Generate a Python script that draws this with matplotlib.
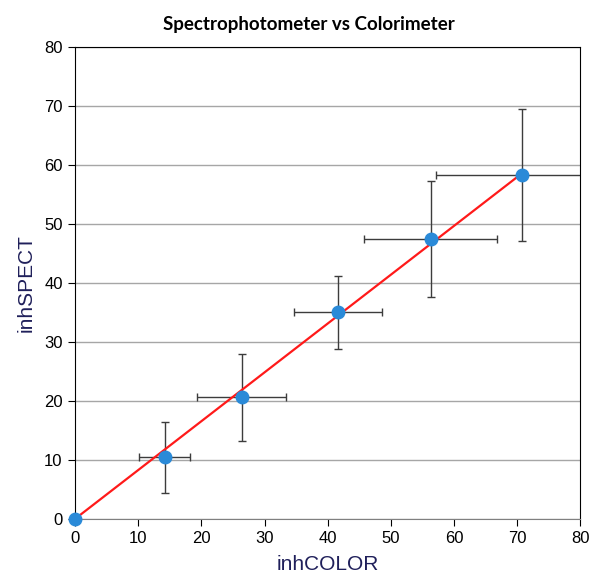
import numpy as np
import matplotlib
matplotlib.use("Agg")
import matplotlib.pyplot as plt

# values
inh_color = [0, 14.15, 26.35, 41.6, 56.3, 70.8]
inh_spect = [0, 10.4, 20.6, 35.0, 47.4, 58.3]
color_err = [0, 4.0, 7.0, 7.0, 10.5, 13.6]
spect_err = [0, 6.0, 7.4, 6.2, 9.8, 11.2]
ticks = [0, 10, 20, 30, 40, 50, 60, 70, 80]

x = np.array(inh_color)
y = np.array(inh_spect)

# trendline forced through the origin
slope = np.sum(x * y) / np.sum(x * x)
fit_x = np.array([0, x.max()])

fig = plt.figure(figsize=(5.92, 5.79), dpi=100)
ax = fig.add_axes([0.127, 0.104, 0.853, 0.815])

ax.grid(axis="y", color="#a6a6a6", linewidth=1)
ax.set_axisbelow(True)

ax.errorbar(x, y, xerr=color_err, yerr=spect_err, fmt="none",
            ecolor="#3c3c3c", elinewidth=1, capsize=3, capthick=1, zorder=2)
ax.plot(fit_x, slope * fit_x, color="#ff1a1a", linewidth=1.6, zorder=3)
ax.plot(x, y, "o", color="#2a8ad8", markersize=9, zorder=4, clip_on=False)

ax.set_xlim(0, 80)
ax.set_ylim(0, 80)
ax.set_xticks(ticks)
ax.set_yticks(ticks)
ax.tick_params(direction="out", length=5, labelsize=12, pad=4)
for lab in ax.get_xticklabels() + ax.get_yticklabels():
    lab.set_fontfamily("Liberation Sans")

for side in ["left", "right", "top"]:
    ax.spines[side].set_color("black")
ax.spines["bottom"].set_color("#808080")

ax.set_xlabel("inhCOLOR", fontsize=15, color="#1f1f5a", family="Liberation Sans", labelpad=6)
ax.set_ylabel("inhSPECT", fontsize=15, color="#1f1f5a", family="Liberation Sans", labelpad=6)
ax.set_title("Spectrophotometer vs Colorimeter", fontsize=13.5, fontweight="bold",
             family="Lato", pad=12, x=0.462)

fig.savefig("out.png", dpi=100)
